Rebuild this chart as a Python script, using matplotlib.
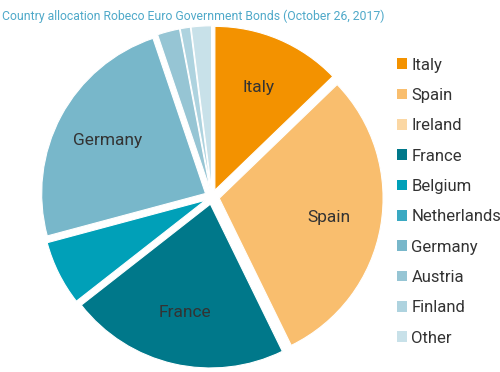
import matplotlib
matplotlib.use('Agg')
from matplotlib import pyplot as plt
from matplotlib.patches import Patch

plt.rcParams['font.family'] = ['Roboto', 'DejaVu Sans']

countries = ['Italy', 'Spain', 'Ireland', 'France', 'Belgium', 'Netherlands',
             'Germany', 'Austria', 'Finland', 'Other']
weights = [12.8, 30.0, 0.0, 21.7, 6.4, 0.0, 24.0, 2.2, 1.0, 2.0]
colors = ['#F39200', '#F9BE6E', '#FBD7A3', '#00788A', '#00A0B8', '#3AA9C2',
          '#78B7CA', '#96C5D4', '#AED3DF', '#C8E1E9']
shown = ['Italy', 'Spain', 'France', 'Germany']

fig = plt.figure(figsize=(5, 3.72), dpi=100)
ax = fig.add_axes([0.08, 0.008, 0.688, 0.925])

labels = [c if c in shown else '' for c in countries]
wedges, texts = ax.pie(weights, labels=labels, colors=colors,
                       startangle=90, counterclock=False,
                       explode=[0.045] * len(weights),
                       labeldistance=0.68,
                       wedgeprops=dict(edgecolor='white', linewidth=0.8),
                       textprops=dict(fontsize=12.5, color='#333333'))
for t in texts:
    t.set_ha('center')
    t.set_va('center')
ax.set_xlim(-1.05, 1.05)
ax.set_ylim(-1.05, 1.05)
ax.set_aspect('equal')

handles = [Patch(facecolor=c, edgecolor='none') for c in colors]
fig.legend(handles, countries, loc='upper left', bbox_to_anchor=(0.793, 0.845),
           frameon=False, handlelength=0.6, handleheight=0.6,
           handletextpad=0.3, labelspacing=0.92, fontsize=12,
           labelcolor='#333333', borderaxespad=0, borderpad=0)

fig.text(0.004, 0.975, 'Country allocation Robeco Euro Government Bonds (October 26, 2017)',
         color='#4FA9C9', fontsize=8.8, ha='left', va='top')

fig.savefig('out.png', dpi=100)
